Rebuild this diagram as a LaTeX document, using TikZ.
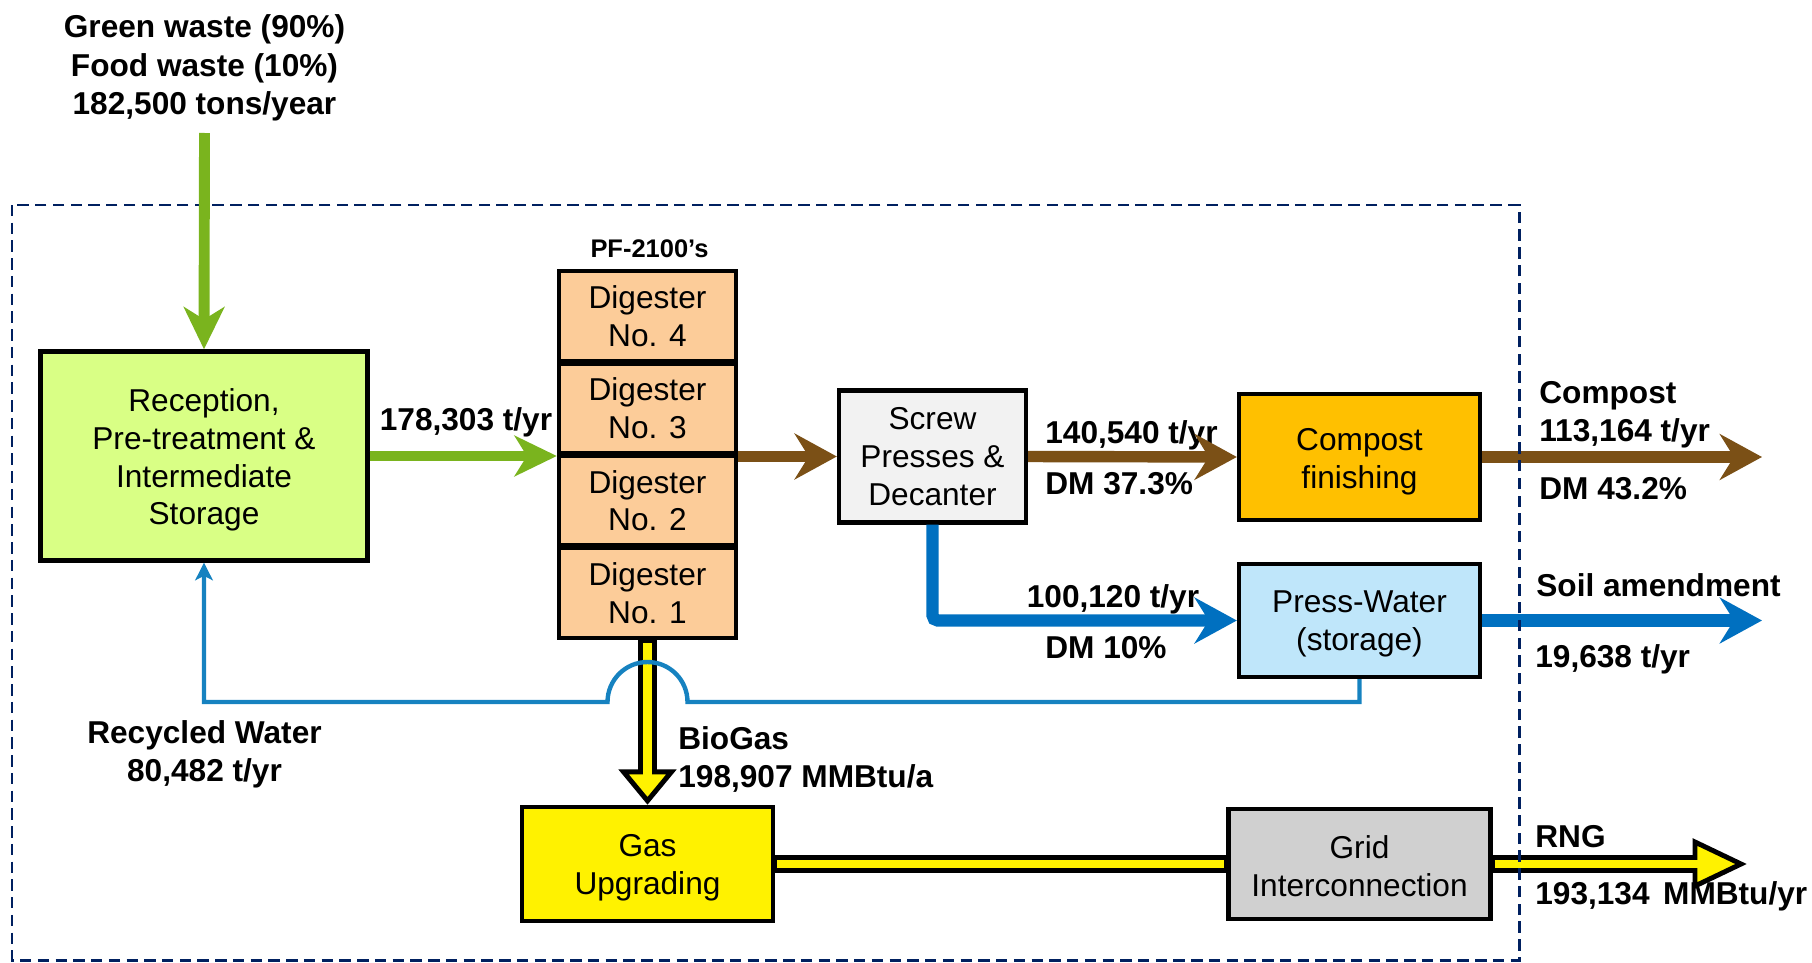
\documentclass[tikz,border=0pt]{standalone}
\usepackage{fontspec}
\setmainfont{Liberation Sans}
\usetikzlibrary{arrows.meta,calc}
\definecolor{arrgreen}{RGB}{122,180,30}
\definecolor{recfill}{RGB}{217,255,133}
\definecolor{digfill}{RGB}{252,204,153}
\definecolor{arrbrown}{RGB}{123,80,22}
\definecolor{screwfill}{RGB}{242,242,242}
\definecolor{compfill}{RGB}{255,192,0}
\definecolor{arrblue}{RGB}{0,112,192}
\definecolor{pwfill}{RGB}{191,230,250}
\definecolor{thinblue}{RGB}{22,130,192}
\definecolor{gridfill}{RGB}{208,208,208}
\definecolor{navy}{RGB}{0,32,96}
\newcommand\bxfont{\fontsize{18}{21.5}\selectfont}
\newcommand\lbfont{\fontsize{18}{21.8}\selectfont\bfseries}
\begin{document}
\begin{tikzpicture}[x=0.02cm,y=-0.02cm,
  procbox/.style={draw=black, line width=2.5pt, inner sep=0pt, align=center, font=\bxfont},
  boxtxt/.style={inner sep=0pt, align=center, font=\bxfont},
  lbl/.style={inner sep=0pt, font=\lbfont, align=center},
  lblw/.style={inner sep=0pt, font=\lbfont, align=left, anchor=west},
  greenarr/.style={draw=arrgreen, line width=6.2pt, -{Stealth[length=24pt,width=23pt,inset=7pt]}},
  brownarr/.style={draw=arrbrown, line width=6.5pt, -{Stealth[length=24pt,width=26pt,inset=8pt]}},
  bluearr/.style={draw=arrblue, line width=7pt, -{Stealth[length=24pt,width=26pt,inset=8pt]}},
  thinarr/.style={draw=thinblue, line width=2.5pt, -{Stealth[length=10pt,width=10pt,inset=2.5pt]}},
  yout/.style={draw=black, line width=10.5pt},
  yin/.style={draw=yellow, line width=4.8pt},
  yhead/.style={fill=yellow, draw=black, line width=2.8pt, line join=miter},
  dashbox/.style={draw=navy, line width=1.7pt, dash pattern=on 6.5pt off 3.6pt}
]
\useasboundingbox (0,0) rectangle (1812,963);

% boxes
\node[procbox, fill=recfill, minimum width=6.54cm, minimum height=4.18cm] (rec) at (204,456) {};
\node[boxtxt] (rect) at (204,460) {Reception,\\Pre-treatment \&\\Intermediate\\Storage};
\node[procbox, fill=digfill, minimum width=3.54cm, minimum height=1.8cm] (dig4) at (647.5,316.1) {Digester\\No. 4};
\node[procbox, fill=digfill, minimum width=3.54cm, minimum height=1.8cm] (dig3) at (647.5,408.4) {Digester\\No. 3};
\node[procbox, fill=digfill, minimum width=3.54cm, minimum height=1.8cm] (dig2) at (647.5,500.6) {Digester\\No. 2};
\node[procbox, fill=digfill, minimum width=3.54cm, minimum height=1.8cm] (dig1) at (647.5,592.9) {Digester\\No. 1};
\node[procbox, fill=screwfill, minimum width=3.74cm, minimum height=2.64cm] (screw) at (932.5,456.5) {Screw\\Presses \&\\Decanter};
\node[procbox, fill=compfill, minimum width=4.82cm, minimum height=2.52cm] (comp) at (1359.5,457) {};
\node[boxtxt] (compt) at (1359.5,462) {Compost\\finishing};
\node[procbox, fill=pwfill, minimum width=4.82cm, minimum height=2.26cm] (pw) at (1359.5,620.5) {};
\node[boxtxt] (pwt) at (1359.5,624) {Press-Water\\(storage)};
\node[procbox, fill=yellow, minimum width=5.02cm, minimum height=2.28cm] (gas) at (647.5,864) {};
\node[boxtxt] (gast) at (647.5,868) {Gas\\Upgrading};
\node[procbox, fill=gridfill, minimum width=5.24cm, minimum height=2.2cm] (grid) at (1359.5,864) {};
\node[boxtxt] (gridt) at (1359.5,866) {Grid\\Interconnection};

% labels
\node[lbl] (title) at (204.5,68) {Green waste (90\%)\\Food waste (10\%)\\182,500 tons/year};
\node[inner sep=0pt, font=\fontsize{14.5}{17}\selectfont\bfseries] (pf) at (649.5,248.5) {PF-2100’s};
\node[lbl] (l1) at (466,422) {178,303 t/yr};
\node[lblw] (l2) at (1045,435.5) {140,540 t/yr};
\node[lblw] (l3) at (1045,484) {DM 37.3\%};
\node[lblw] (l4) at (1539,415) {Compost\\113,164 t/yr};
\node[lblw] (l5) at (1539,488.5) {DM 43.2\%};
\node[lbl] (l6) at (1113,599.5) {100,120 t/yr};
\node[lbl] (l7) at (1106,648) {DM 10\%};
\node[lblw] (l8) at (1536,585) {Soil amendment};
\node[lblw] (l9) at (1535,659.5) {19,638 t/yr};
\node[lbl] (l10) at (204.5,754) {Recycled Water\\80,482 t/yr};
\node[lblw] (l11) at (678,759.5) {BioGas\\198,907 MMBtu/a};
\node[lblw] (l12) at (1535,836.5) {RNG};
\node[lblw] (l13) at (1535,896.5) {193,134\hspace{0.15em} MMBtu/yr};

% free ends
\coordinate (inS) at (204.5,133);
\coordinate (compOut) at (1762,457);
\coordinate (pwOut) at (1762,620.5);
\coordinate (rngOut) at (1745,864);
\coordinate (hopR) at (687.5,702);

% connectors
\draw[brownarr] (screw.west -| dig3.east) -- (screw.west);
\draw[brownarr] (screw.east) -- (comp.west);
\draw[brownarr] (comp.east) -- (compOut);
\draw[bluearr, rounded corners=3pt] (screw.south) |- (pw.west);
\draw[bluearr] (pw.east) -- (pwOut);
\draw[greenarr] (rec.east) -- (rec.east -| dig3.west);

% biogas
\draw[yout] (dig1.south) -- ($(gas.north)+(0,-33)$);
\draw[yhead] ($(gas.north)+(0,-4)$) -- ($(gas.north)+(-24,-33)$) -- ($(gas.north)+(24,-33)$) -- cycle;
\draw[yin] ($(dig1.south)+(0,3)$) -- ($(gas.north)+(0,-28)$);

% gas to grid
\draw[yout] (gas.east) -- (grid.west);
\draw[yin] ($(gas.east)+(2,0)$) -- ($(grid.west)+(-2,0)$);

% RNG
\draw[yout] (grid.east) -- ($(rngOut)+(-50,0)$);
\draw[yhead] ($(rngOut)+(-4,0)$) -- ($(rngOut)+(-50,-22)$) -- ($(rngOut)+(-50,22)$) -- cycle;
\draw[yin] ($(grid.east)+(2,0)$) -- ($(rngOut)+(-45,0)$);

% recycled water
\draw[thinarr] (pw.south) |- (hopR) arc[start angle=0, end angle=180, radius=0.8cm] -- (rec.south |- hopR) -- (rec.south);

% system boundary
\draw[dashbox] (12,205) rectangle (1519,960);

% feed
\draw[greenarr] (inS) -- (rec.north);
\end{tikzpicture}
\end{document}
